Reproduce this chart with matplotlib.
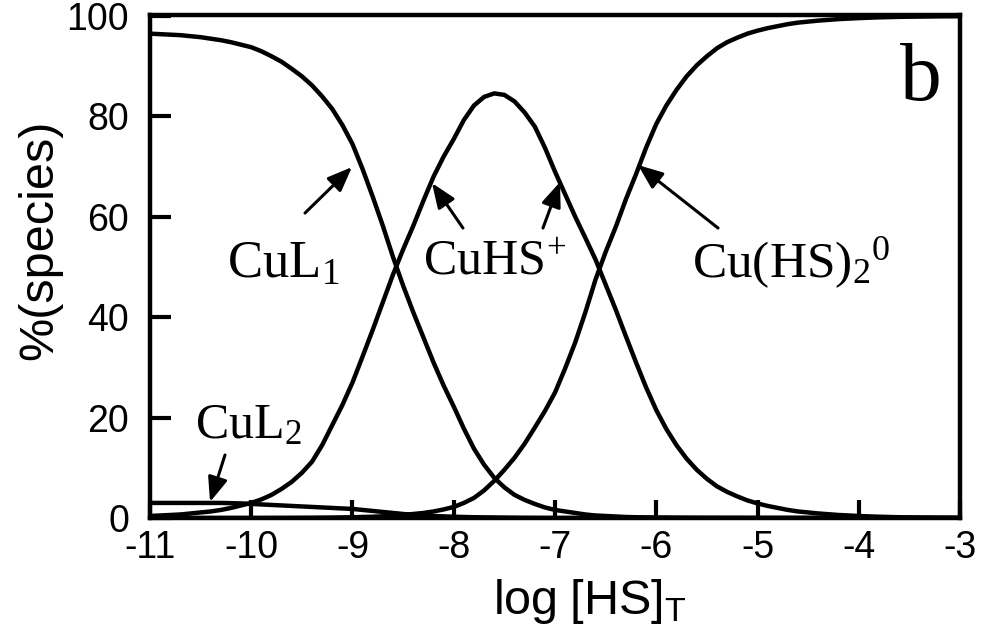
import matplotlib
matplotlib.use("Agg")
import matplotlib.pyplot as plt

plt.rcParams["font.family"] = ["Liberation Sans", "DejaVu Sans"]
plt.rcParams["mathtext.fontset"] = "custom"
plt.rcParams["mathtext.rm"] = "Liberation Serif"
plt.rcParams["mathtext.it"] = "Liberation Serif:italic"
plt.rcParams["mathtext.sf"] = "Liberation Sans"

# log total sulfide concentration
log_hs = [-11.0, -10.9, -10.8, -10.7, -10.6, -10.5, -10.4, -10.3, -10.2, -10.1,
          -10.0, -9.9, -9.8, -9.7, -9.6, -9.5, -9.4, -9.3, -9.2, -9.1,
          -9.0, -8.9, -8.8, -8.7, -8.6, -8.5, -8.4, -8.3, -8.2, -8.1,
          -8.0, -7.9, -7.8, -7.7, -7.6, -7.5, -7.4, -7.3, -7.2, -7.1,
          -7.0, -6.9, -6.8, -6.7, -6.6, -6.5, -6.4, -6.3, -6.2, -6.1,
          -6.0, -5.9, -5.8, -5.7, -5.6, -5.5, -5.4, -5.3, -5.2, -5.1,
          -5.0, -4.9, -4.8, -4.7, -4.6, -4.5, -4.4, -4.3, -4.2, -4.1,
          -4.0, -3.9, -3.8, -3.7, -3.6, -3.5, -3.4, -3.3, -3.2, -3.1,
          -3.0]

# percentage of total copper in each species
cul1 = [96.5, 96.4, 96.3, 96.2, 96.0, 95.8, 95.5, 95.2, 94.8, 94.3,
        93.8, 93.0, 92.0, 90.9, 89.5, 88.0, 86.2, 84.0, 81.5, 78.3,
        74.5, 69.5, 64.0, 58.2, 52.0, 46.3, 41.0, 36.0, 31.0, 26.4,
        22.2, 17.8, 13.8, 10.6, 8.0, 6.1, 4.6, 3.6, 2.8, 2.1,
        1.6, 1.3, 1.0, 0.7, 0.5, 0.4, 0.3, 0.2, 0.15, 0.12,
        0.1, 0.08, 0.05, 0.04, 0.03, 0.02, 0.02, 0.01, 0.01, 0.0,
        0.0, 0.0, 0.0, 0.0, 0.0, 0.0, 0.0, 0.0, 0.0, 0.0,
        0.0, 0.0, 0.0, 0.0, 0.0, 0.0, 0.0, 0.0, 0.0, 0.0,
        0.0]
cul2 = [3.0, 3.0, 3.0, 3.0, 3.0, 3.0, 3.0, 3.0, 2.95, 2.9,
        2.8, 2.7, 2.6, 2.5, 2.4, 2.3, 2.2, 2.1, 2.0, 1.9,
        1.8, 1.6, 1.4, 1.2, 1.0, 0.8, 0.6, 0.5, 0.4, 0.32,
        0.25, 0.2, 0.15, 0.12, 0.1, 0.07, 0.05, 0.03, 0.02, 0.01,
        0.0, 0.0, 0.0, 0.0, 0.0, 0.0, 0.0, 0.0, 0.0, 0.0,
        0.0, 0.0, 0.0, 0.0, 0.0, 0.0, 0.0, 0.0, 0.0, 0.0,
        0.0, 0.0, 0.0, 0.0, 0.0, 0.0, 0.0, 0.0, 0.0, 0.0,
        0.0, 0.0, 0.0, 0.0, 0.0, 0.0, 0.0, 0.0, 0.0, 0.0,
        0.0]
cuhs = [0.4, 0.5, 0.6, 0.7, 0.9, 1.1, 1.3, 1.6, 2.0, 2.5,
        3.0, 3.7, 4.6, 5.8, 7.2, 9.0, 11.2, 14.5, 18.5, 22.5,
        27.0, 32.2, 37.5, 43.0, 48.5, 53.5, 58.2, 63.2, 68.0, 72.0,
        75.5, 79.3, 82.2, 83.9, 84.6, 84.3, 83.0, 80.8, 78.0, 73.8,
        69.0, 64.5, 60.0, 55.8, 51.5, 46.5, 41.5, 36.2, 31.0, 26.0,
        21.5, 17.7, 14.5, 11.8, 9.6, 7.8, 6.3, 5.2, 4.3, 3.5,
        2.9, 2.4, 2.0, 1.6, 1.3, 1.1, 0.9, 0.75, 0.6, 0.5,
        0.4, 0.32, 0.25, 0.2, 0.15, 0.12, 0.1, 0.08, 0.05, 0.04,
        0.03]
cuhs2 = [0.0, 0.0, 0.0, 0.0, 0.0, 0.0, 0.0, 0.0, 0.0, 0.0,
         0.0, 0.0, 0.01, 0.01, 0.02, 0.03, 0.04, 0.06, 0.08, 0.11,
         0.15, 0.2, 0.25, 0.33, 0.45, 0.6, 0.8, 1.0, 1.3, 1.7,
         2.2, 3.0, 4.0, 5.5, 7.4, 9.6, 12.0, 14.8, 18.0, 21.3,
         25.0, 29.8, 35.0, 41.0, 47.5, 53.0, 58.0, 63.5, 68.5, 73.8,
         78.5, 82.2, 85.3, 88.0, 90.2, 92.0, 93.6, 94.8, 95.7, 96.5,
         97.1, 97.6, 98.0, 98.4, 98.7, 98.9, 99.1, 99.25, 99.4, 99.5,
         99.6, 99.68, 99.75, 99.8, 99.85, 99.88, 99.9, 99.92, 99.95, 99.96,
         99.97]

x_ticks = [-11, -10, -9, -8, -7, -6, -5, -4, -3]
y_ticks = [0, 20, 40, 60, 80, 100]

fig = plt.figure(figsize=(9.88, 6.29), dpi=100)
ax = fig.add_axes([0.1518, 0.1765, 0.8199, 0.7995])

lw = 3.2
for series in (cul1, cul2, cuhs, cuhs2):
    ax.plot(log_hs, series, color="black", lw=lw, solid_capstyle="butt",
            solid_joinstyle="round")

ax.set_xlim(-11, -3)
ax.set_ylim(0, 100.2)
ax.set_xticks(x_ticks)
ax.set_yticks(y_ticks)
ax.set_xticklabels([str(t) for t in x_ticks])
ax.set_yticklabels([str(t) for t in y_ticks])

for side in ("left", "right", "top", "bottom"):
    ax.spines[side].set_linewidth(3.2)
ax.xaxis.set_tick_params(which="major", direction="in", length=13, width=3,
                         color="black", labelsize=27, pad=9,
                         bottom=True, top=False)
ax.yaxis.set_tick_params(which="major", direction="in", length=15, width=3,
                         color="black", labelsize=27, pad=15,
                         left=True, right=False)

ax.set_xlabel(r"$\mathsf{log\ [HS]_T}$", fontsize=35)
ax.set_ylabel("%(species)", fontsize=35)
ax.xaxis.set_label_coords(0.543, -0.118)
ax.yaxis.set_label_coords(-0.108, 0.553)

# species labels
ax.text(-10.24, 47.8, r"$\mathrm{CuL_1}$", fontsize=38, ha="left", va="baseline")
ax.text(-8.30, 48.4, r"$\mathrm{CuHS^{\!+}}$", fontsize=36, ha="left", va="baseline")
ax.text(-5.647, 48.0, r"$\mathrm{Cu(HS)_2{}^0}$", fontsize=37, ha="left", va="baseline")
ax.text(-10.556, 15.9, r"$\mathrm{CuL_2}$", fontsize=36, ha="left", va="baseline")
ax.text(-3.593, 83.3, "b", fontsize=60, family="Liberation Serif", ha="left", va="baseline")

arrow_style = dict(arrowstyle="-|>,head_length=0.75,head_width=0.3", lw=2.2,
                   color="black", shrinkA=0, shrinkB=0, mutation_scale=20)
arrows = [
    ((-9.469, 60.76), (-9.005, 69.92)),
    ((-7.909, 57.77), (-8.215, 66.73)),
    ((-7.119, 57.77), (-6.951, 66.93)),
    ((-5.390, 57.77), (-6.180, 70.32)),
    ((-10.259, 12.55), (-10.407, 3.19)),
]
for tail, head in arrows:
    ax.annotate("", xy=head, xytext=tail, arrowprops=arrow_style)

fig.savefig("out.png", dpi=100, facecolor="white")
